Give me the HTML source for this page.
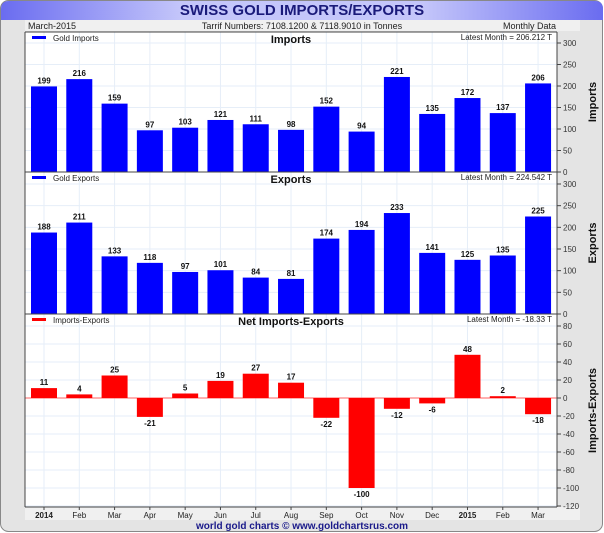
<!DOCTYPE html>
<html><head><meta charset="utf-8"><style>
html,body{margin:0;padding:0;background:#fff;width:604px;height:533px;overflow:hidden}
svg{display:block;font-family:"Liberation Sans",sans-serif}
</style></head><body>
<svg id="c" width="604" height="533" viewBox="0 0 604 533">
<defs>
<linearGradient id="tg" x1="0" x2="1" y1="0" y2="0">
<stop offset="0" stop-color="#6a6cf0"/><stop offset="0.3" stop-color="#c4c6fa"/><stop offset="0.7" stop-color="#c4c6fa"/><stop offset="1" stop-color="#6a6cf0"/>
</linearGradient>
</defs>
<rect x="0.5" y="0.5" width="602" height="531" rx="8" fill="#e4e4e4" stroke="#888"/>
<path d="M1,20 L1,9 Q1,1 9,1 L595,1 Q603,1 603,9 L603,20 Z" fill="url(#tg)"/>
<text x="302" y="15" text-anchor="middle" font-size="15" font-weight="bold" fill="#1a1a7a">SWISS GOLD IMPORTS/EXPORTS</text>
<rect x="25" y="20" width="555" height="11" fill="#f0f0f0"/>
<text x="28" y="29" font-size="9" fill="#222">March-2015</text>
<text x="302" y="29" font-size="9" text-anchor="middle" fill="#222">Tarrif Numbers: 7108.1200 &amp; 7118.9010 in Tonnes</text>
<text x="556" y="29" font-size="9" text-anchor="end" fill="#222">Monthly Data</text>
<rect x="25" y="32" width="532" height="475" fill="#fff"/>
<rect x="25" y="507" width="555" height="13" fill="#f0f0f0"/>
<g id="g"></g>
<text x="302" y="529" text-anchor="middle" font-size="10" font-weight="bold" fill="#1a1a8a">world gold charts © www.goldchartsrus.com</text>
</svg>
<script>
const months=["2014","Feb","Mar","Apr","May","Jun","Jul","Aug","Sep","Oct","Nov","Dec","2015","Feb","Mar"];
const imports=[199,216,159,97,103,121,111,98,152,94,221,135,172,137,206];
const exports_=[188,211,133,118,97,101,84,81,174,194,233,141,125,135,225];
const net=[11,4,25,-21,5,19,27,17,-22,-100,-12,-6,48,2,-18];
const impTicks=[0,50,100,150,200,250,300];
const netTicks=[80,60,40,20,0,-20,-40,-60,-80,-100,-120];
const NS="http://www.w3.org/2000/svg";
const g=document.getElementById('g');
function el(t,a,txt){const e=document.createElementNS(NS,t);for(const k in a)e.setAttribute(k,a[k]);if(txt!==undefined)e.textContent=txt;g.appendChild(e);return e;}
const L=25,R=557;
const xs=i=>44+i*35.29;
const bw=26;
const panels=[
 {name:'imports',data:imports,top:32,y0:172,y1:43,v1:300,ticks:impTicks,color:'#0000ff',title:'Imports',leg:'Gold Imports',latest:'Latest Month = 206.212 T',ylab:'Imports',bottom:172},
 {name:'exports',data:exports_,top:172,y0:314,y1:184,v1:300,ticks:impTicks,color:'#0000ff',title:'Exports',leg:'Gold Exports',latest:'Latest Month = 224.542 T',ylab:'Exports',bottom:314},
 {name:'net',data:net,top:314,y0:398,y1:326,v1:80,ticks:netTicks,color:'#ff0000',title:'Net Imports-Exports',leg:'Imports-Exports',latest:'Latest Month = -18.33 T',ylab:'Imports-Exports',bottom:507}
];
// vertical grid
months.forEach((m,i)=>{
 let e=el('line',{x1:xs(i),x2:xs(i),y1:32,y2:507,stroke:'#e6eef8','stroke-width':1});
 
 let t=el('text',{x:xs(i),y:518,'text-anchor':'middle','font-size':8,fill:'#222','font-weight':(m==='2014'||m==='2015')?'bold':'normal'},m);
 
 let tk=el('line',{x1:xs(i),x2:xs(i),y1:507,y2:510,stroke:'#444'});
 
});
panels.forEach(p=>{
 const ys=v=>p.y0-(v*(p.y0-p.y1)/p.v1);
 p.ticks.forEach(v=>{
  const y=ys(v);
  if(y<p.top-1||y>p.bottom+1)return;
  let gl=el('line',{x1:L,x2:R,y1:y,y2:y,stroke:'#e6eef8'});
  
  let tk=el('line',{x1:R,x2:R+4,y1:y,y2:y,stroke:'#444'});
  
  let t=el('text',{x:R+6,y:y+3,'font-size':8,fill:'#333'},v);
  
 });
 if(p.name==='net'){let z=el('line',{x1:L,x2:R,y1:p.y0,y2:p.y0,stroke:'#ff6060'});}
 p.data.forEach((v,i)=>{
  const yt=Math.min(ys(v),p.y0),h=Math.abs(ys(v)-p.y0);
  let b=el('rect',{x:xs(i)-bw/2,y:yt,width:bw,height:h,fill:p.color});
  
  const ly=v>=0?ys(v)-3:ys(v)+9;
  let t=el('text',{x:xs(i),y:ly,'text-anchor':'middle','font-size':8,'font-weight':'bold',fill:'#111'},v);
  
 });
 let tt=el('text',{x:291,y:p.top+11,'text-anchor':'middle','font-size':11,'font-weight':'bold',fill:'#111'},p.title);
 
 let lm=el('rect',{x:32,y:p.top+4,width:14,height:3,fill:p.color});
 
 let lt=el('text',{x:53,y:p.top+9,'font-size':8,fill:'#222'},p.leg);
 
 let la=el('text',{x:552,y:p.top+8,'text-anchor':'end','font-size':8,fill:'#222'},p.latest);
 
 const cy=(p.top+p.bottom)/2;
 let yl=el('text',{x:0,y:0,'text-anchor':'middle','font-size':11,'font-weight':'bold',fill:'#111',transform:`translate(596,${cy}) rotate(-90)`},p.ylab);
 
 let sep=el('line',{x1:L,x2:R,y1:p.bottom,y2:p.bottom,stroke:'#444'});
 
});
let bl=el('line',{x1:L,x2:L,y1:32,y2:507,stroke:'#444'});
let br=el('line',{x1:R,x2:R,y1:32,y2:507,stroke:'#444'});
let bt=el('line',{x1:L,x2:R,y1:32,y2:32,stroke:'#444'});
</script>
</body></html>
